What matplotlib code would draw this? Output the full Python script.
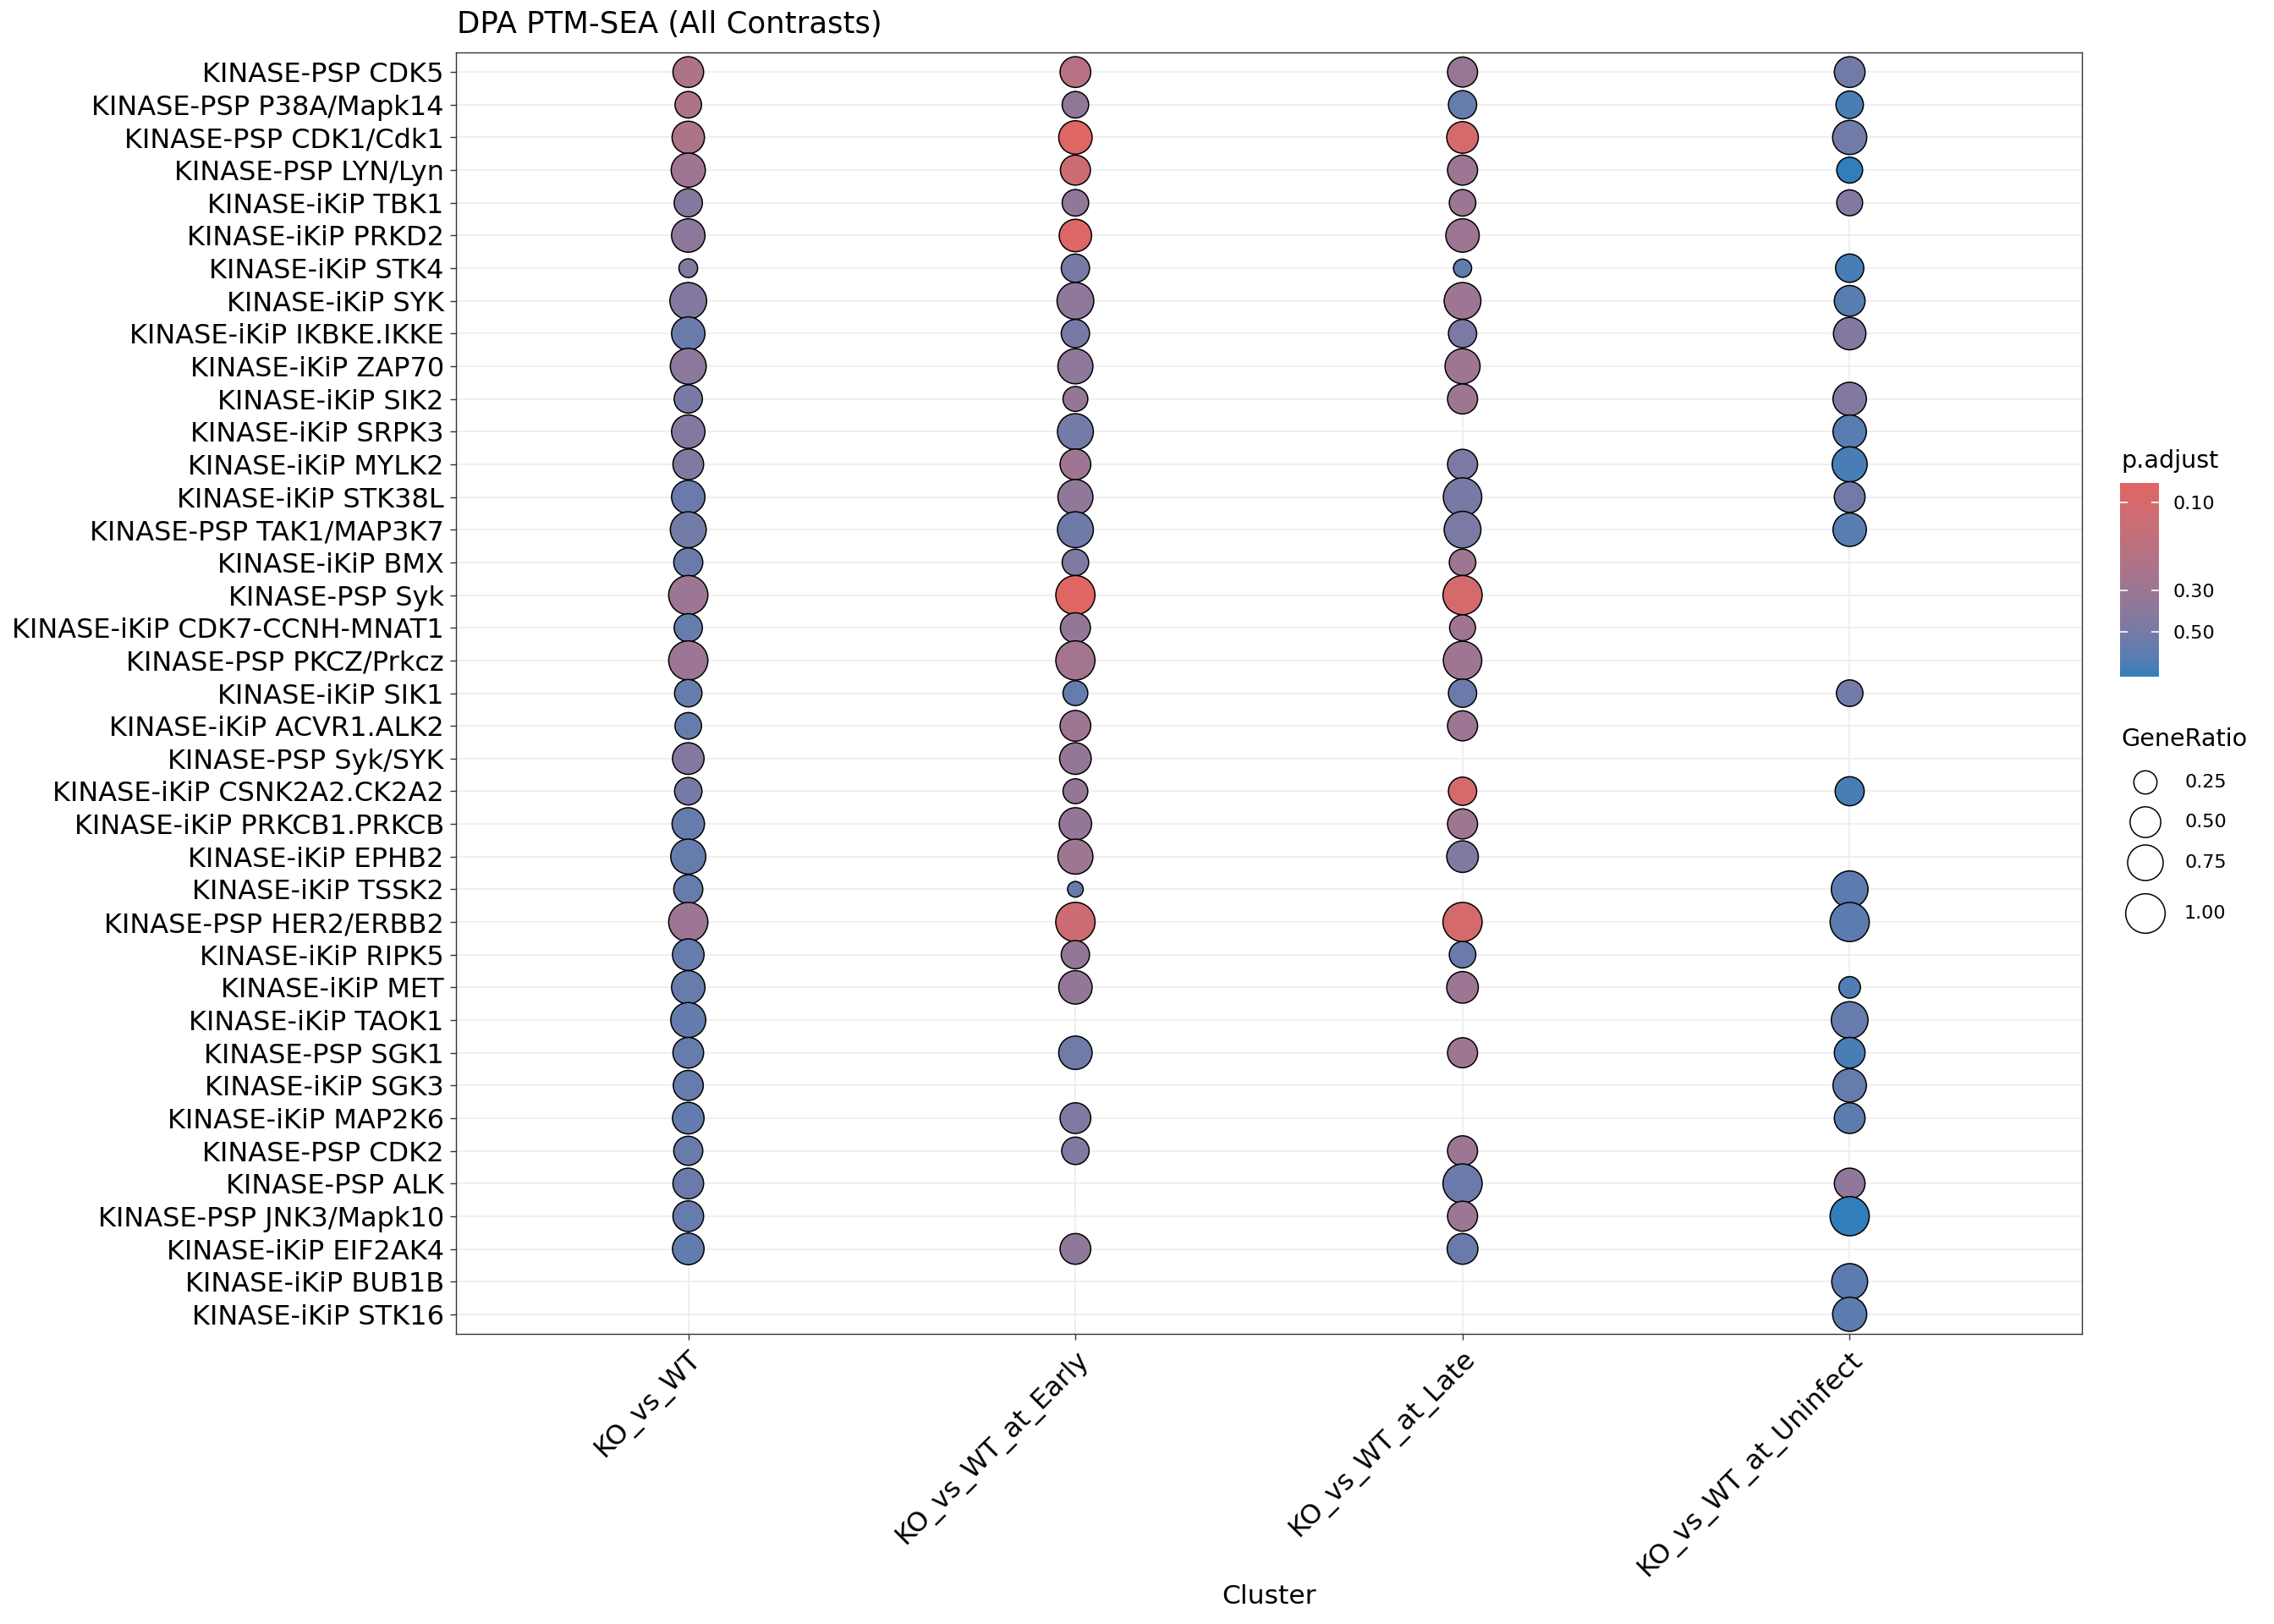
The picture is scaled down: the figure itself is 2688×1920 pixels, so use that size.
import numpy as np
import matplotlib
matplotlib.use("Agg")
import matplotlib.pyplot as plt
from matplotlib.colors import ListedColormap, LogNorm
from matplotlib.cm import ScalarMappable

plt.rcParams['font.family'] = ['DejaVu Sans']

nan = np.nan

pathways = [
    "KINASE-PSP CDK5", "KINASE-PSP P38A/Mapk14", "KINASE-PSP CDK1/Cdk1",
    "KINASE-PSP LYN/Lyn", "KINASE-iKiP TBK1", "KINASE-iKiP PRKD2",
    "KINASE-iKiP STK4", "KINASE-iKiP SYK", "KINASE-iKiP IKBKE.IKKE",
    "KINASE-iKiP ZAP70", "KINASE-iKiP SIK2", "KINASE-iKiP SRPK3",
    "KINASE-iKiP MYLK2", "KINASE-iKiP STK38L", "KINASE-PSP TAK1/MAP3K7",
    "KINASE-iKiP BMX", "KINASE-PSP Syk", "KINASE-iKiP CDK7-CCNH-MNAT1",
    "KINASE-PSP PKCZ/Prkcz", "KINASE-iKiP SIK1", "KINASE-iKiP ACVR1.ALK2",
    "KINASE-PSP Syk/SYK", "KINASE-iKiP CSNK2A2.CK2A2", "KINASE-iKiP PRKCB1.PRKCB",
    "KINASE-iKiP EPHB2", "KINASE-iKiP TSSK2", "KINASE-PSP HER2/ERBB2",
    "KINASE-iKiP RIPK5", "KINASE-iKiP MET", "KINASE-iKiP TAOK1",
    "KINASE-PSP SGK1", "KINASE-iKiP SGK3", "KINASE-iKiP MAP2K6",
    "KINASE-PSP CDK2", "KINASE-PSP ALK", "KINASE-PSP JNK3/Mapk10",
    "KINASE-iKiP EIF2AK4", "KINASE-iKiP BUB1B", "KINASE-iKiP STK16",
]

clusters = ["KO_vs_WT", "KO_vs_WT_at_Early", "KO_vs_WT_at_Late", "KO_vs_WT_at_Uninfect"]

# GeneRatio per cluster (top row first)
gr_ko_vs_wt = [0.50, 0.34, 0.58, 0.67, 0.40, 0.63, 0.18, 0.82, 0.63, 0.77,
               0.40, 0.63, 0.50, 0.63, 0.77, 0.43, 0.98, 0.40, 0.98, 0.37,
               0.34, 0.54, 0.37, 0.58, 0.72, 0.43, 0.98, 0.54, 0.63, 0.72,
               0.50, 0.47, 0.54, 0.43, 0.50, 0.50, 0.54, nan, nan]
gr_early = [0.50, 0.34, 0.63, 0.47, 0.34, 0.58, 0.40, 0.82, 0.40, 0.72,
            0.29, 0.77, 0.50, 0.72, 0.77, 0.34, 0.98, 0.47, 0.98, 0.29,
            0.50, 0.54, 0.29, 0.58, 0.72, 0.166, 0.99, 0.40, 0.63, nan,
            0.63, nan, 0.50, 0.37, nan, nan, 0.50, nan, nan]
gr_late = [0.47, 0.40, 0.54, 0.47, 0.34, 0.63, 0.175, 0.82, 0.40, 0.72,
           0.47, nan, 0.47, 0.93, 0.82, 0.34, 0.98, 0.32, 0.93, 0.40,
           0.47, nan, 0.40, 0.47, 0.54, nan, 0.98, 0.34, 0.54, nan,
           0.47, nan, nan, 0.47, 0.98, 0.47, 0.50, nan, nan]
gr_uninfect = [0.50, 0.37, 0.67, 0.32, 0.32, nan, 0.40, 0.50, 0.58, nan,
               0.63, 0.63, 0.72, 0.50, 0.63, nan, nan, nan, nan, 0.34,
               nan, nan, 0.43, nan, nan, 0.82, 0.98, nan, 0.217, 0.82,
               0.50, 0.63, 0.50, nan, 0.50, 0.98, nan, 0.77, 0.67]

# p.adjust per cluster
p_ko_vs_wt = [0.221, 0.221, 0.221, 0.282, 0.425, 0.376, 0.425, 0.425, 0.58, 0.386,
              0.49, 0.425, 0.445, 0.58, 0.52, 0.58, 0.295, 0.60, 0.295, 0.60,
              0.60, 0.425, 0.50, 0.60, 0.60, 0.60, 0.295, 0.60, 0.59, 0.61,
              0.60, 0.60, 0.61, 0.59, 0.58, 0.60, 0.63, nan, nan]
p_early = [0.187, 0.36, 0.078, 0.12, 0.36, 0.084, 0.49, 0.36, 0.49, 0.36,
           0.334, 0.52, 0.282, 0.36, 0.55, 0.455, 0.078, 0.334, 0.262, 0.60,
           0.282, 0.334, 0.334, 0.334, 0.282, 0.60, 0.12, 0.334, 0.334, nan,
           0.54, nan, 0.455, 0.455, nan, nan, 0.36, nan, nan]
p_late = [0.318, 0.60, 0.099, 0.295, 0.295, 0.295, 0.64, 0.295, 0.48, 0.282,
          0.282, nan, 0.48, 0.49, 0.48, 0.282, 0.099, 0.282, 0.282, 0.58,
          0.295, nan, 0.099, 0.282, 0.455, nan, 0.099, 0.58, 0.295, nan,
          0.282, nan, nan, 0.295, 0.58, 0.295, 0.58, nan, nan]
p_uninfect = [0.53, 0.778, 0.53, 0.88, 0.425, nan, 0.778, 0.69, 0.425, nan,
              0.425, 0.69, 0.778, 0.53, 0.69, nan, nan, nan, nan, 0.53,
              nan, nan, 0.778, nan, nan, 0.658, 0.658, nan, 0.741, 0.60,
              0.778, 0.60, 0.658, nan, 0.36, 0.88, nan, 0.658, 0.658]

legend_ratios = [0.25, 0.50, 0.75, 1.00]
cbar_ticks = [0.10, 0.30, 0.50]

GR = np.array([gr_ko_vs_wt, gr_early, gr_late, gr_uninfect], dtype=float)
PA = np.array([p_ko_vs_wt, p_early, p_late, p_uninfect], dtype=float)

# ---------- colour map: Lab interpolation like ggplot ----------
def _srgb_to_lin(c):
    c = np.asarray(c, float)
    return np.where(c <= 0.04045, c / 12.92, ((c + 0.055) / 1.055) ** 2.4)

def _lin_to_srgb(c):
    c = np.clip(c, 0, 1)
    return np.where(c <= 0.0031308, 12.92 * c, 1.055 * c ** (1 / 2.4) - 0.055)

M = np.array([[0.4124, 0.3576, 0.1805], [0.2126, 0.7152, 0.0722], [0.0193, 0.1192, 0.9505]])
WP = np.array([0.95047, 1.0, 1.08883])

def rgb_to_lab(rgb):
    xyz = M @ _srgb_to_lin(rgb) / WP
    f = np.where(xyz > (6 / 29) ** 3, np.cbrt(xyz), xyz / (3 * (6 / 29) ** 2) + 4 / 29)
    return np.array([116 * f[1] - 16, 500 * (f[0] - f[1]), 200 * (f[1] - f[2])])

def lab_to_rgb(lab):
    L, a, b = lab
    fy = (L + 16) / 116
    fx = fy + a / 500
    fz = fy - b / 200
    f = np.array([fx, fy, fz])
    xyz = np.where(f > 6 / 29, f ** 3, 3 * (6 / 29) ** 2 * (f - 4 / 29)) * WP
    return _lin_to_srgb(np.linalg.solve(M, xyz))

def hex2rgb(h):
    return np.array([int(h[i:i + 2], 16) / 255 for i in (1, 3, 5)])

low_lab = rgb_to_lab(hex2rgb("#e06663"))
high_lab = rgb_to_lab(hex2rgb("#327eba"))
cols = [lab_to_rgb(low_lab + (high_lab - low_lab) * t) for t in np.linspace(0, 1, 256)]
cmap = ListedColormap(cols)
norm = LogNorm(vmin=np.nanmin(PA), vmax=np.nanmax(PA))

# ---------- figure ----------
W, H, DPI = 2688, 1920, 200
fig = plt.figure(figsize=(W / DPI, H / DPI), dpi=DPI)
PX2PT = 72 / DPI

ax_l, ax_r, ax_t, ax_b = 539, 2461, 62, 1577
ax = fig.add_axes([ax_l / W, 1 - ax_b / H, (ax_r - ax_l) / W, (ax_b - ax_t) / H])

gmin, gmax = np.nanmin(GR), np.nanmax(GR)
EDGE_PT = 0.55

def marker_s(g):
    d_px = 20 + 28 * np.sqrt(np.clip((np.asarray(g) - gmin) / (gmax - gmin), 0, None))
    d_pt = d_px * PX2PT - EDGE_PT
    return d_pt ** 2

n = len(pathways)
ypos = np.arange(n)
for j, cl in enumerate(clusters):
    m = ~np.isnan(GR[j])
    ax.scatter(np.full(m.sum(), j), ypos[m], s=marker_s(GR[j][m]),
               c=PA[j][m], cmap=cmap, norm=norm, edgecolors="black",
               linewidths=EDGE_PT, zorder=3)

ax.set_xlim(-0.6, len(clusters) - 1 + 0.6)
ax.set_ylim(n - 1 + 0.6, -0.6)
ax.set_xticks(range(len(clusters)))
ax.set_xticklabels(clusters, rotation=45, ha="right", va="top", rotation_mode="anchor")
ax.set_yticks(ypos)
ax.set_yticklabels(pathways)
ax.grid(True, color="#ebebeb", linewidth=0.55, zorder=0)
ax.set_axisbelow(True)
for sp in ax.spines.values():
    sp.set_color("#333333")
    sp.set_linewidth(0.5)
ax.tick_params(axis="both", colors="#333333", length=2.6, width=0.5,
               labelsize=11.5, labelcolor="black", pad=2.5)

fig.text(540 / W, 1 - 29 / H, "DPA PTM-SEA (All Contrasts)", fontsize=12.8,
         ha="left", va="center")
fig.text((ax_l + ax_r) / 2 / W, 1 - 1887 / H, "Cluster", fontsize=11.3,
         ha="center", va="center")

# ---------- colour bar ----------
cax = fig.add_axes([2506 / W, 1 - 800 / H, 46 / W, 229 / H])
cb = fig.colorbar(ScalarMappable(norm=norm, cmap=cmap), cax=cax)
cb.outline.set_visible(False)
cax.invert_yaxis()
cax.minorticks_off()
cb.set_ticks(cbar_ticks)
cb.set_ticklabels([f"{t:.2f}" for t in cbar_ticks])
cax.minorticks_off()
cax.tick_params(axis="y", which="both", direction="in", color="white", length=3.2,
                width=0.6, left=True, right=True, labelleft=False, labelright=True,
                labelsize=8, pad=6)
fig.text(2507 / W, 1 - 545 / H, "p.adjust", fontsize=10.3, ha="left", va="center")

# ---------- size legend ----------
fig.text(2507 / W, 1 - 874 / H, "GeneRatio", fontsize=10.3, ha="left", va="center")
lax = fig.add_axes([0, 0, 1, 1])
lax.set_xlim(0, W)
lax.set_ylim(H, 0)
lax.axis("off")
leg_y = [925, 972, 1020, 1080]
lax.scatter([2536] * len(legend_ratios), leg_y, s=marker_s(legend_ratios),
            facecolors="none", edgecolors="black", linewidths=EDGE_PT)
for yy, r in zip(leg_y, legend_ratios):
    lax.text(2582, yy, f"{r:.2f}", fontsize=8, ha="left", va="center")

fig.savefig("out.png", dpi=DPI, facecolor="white")
